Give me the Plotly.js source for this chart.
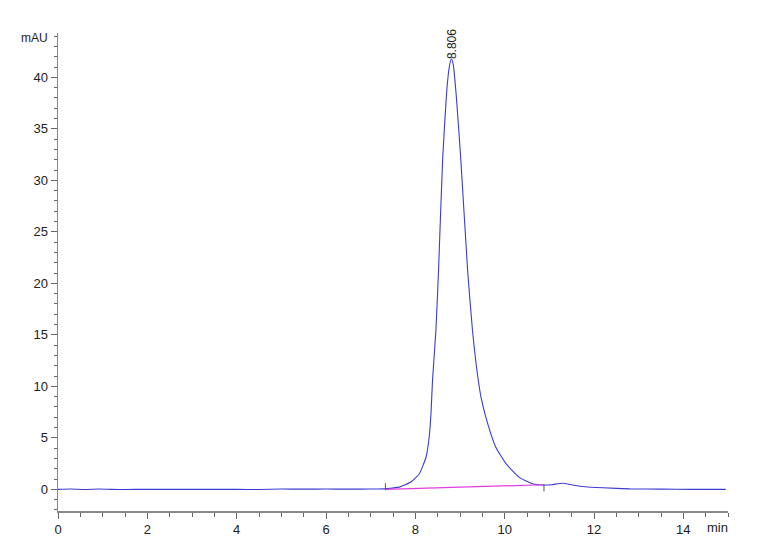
<!DOCTYPE html>
<html>
<head>
<meta charset="utf-8">
<script src="https://cdn.plot.ly/plotly-3.0.1.min.js"></script>
<style>html,body{margin:0;padding:0;background:#fff;}#chart{width:760px;height:557px;}</style>
</head>
<body>
<div id="chart"></div>
<script>
// Retention time (min) and absorbance (mAU)
const timeMin = [0.0, 0.3, 0.6, 0.9, 1.2, 1.5, 2.0, 2.5, 3.0, 3.5, 4.0, 4.5, 5.0, 5.5, 6.0, 6.5, 7.0, 7.30,
  7.34, 7.64, 7.90, 8.09, 8.24, 8.31, 8.35, 8.385, 8.46, 8.52, 8.61, 8.70, 8.76, 8.806, 8.85, 8.92, 9.02,
  9.17, 9.28, 9.36, 9.47, 9.62, 9.80, 10.03, 10.32, 10.62, 10.88, 11.05, 11.30, 11.55,
  11.80, 12.20, 12.80, 13.50, 14.20, 14.95];
const signalMAU = [0.0, 0.03, -0.02, 0.03, 0.0, -0.01, 0.0, 0.0, 0.0, 0.0, 0.0, -0.01, 0.03, 0.02, 0.03, 0.02, 0.03, 0.05,
  0.07, 0.22, 0.71, 1.52, 3.14, 5.08, 7.35, 10.6, 15.4, 21.3, 31.9, 38.5, 41.0, 41.8, 41.2, 38.0, 31.9,
  21.3, 15.4, 12.2, 8.96, 6.38, 4.11, 2.50, 1.19, 0.55, 0.42, 0.45, 0.6, 0.4,
  0.25, 0.15, 0.05, 0.02, 0.0, 0.0];
// Integration baseline (peak start / end)
const baseTime = [7.33, 10.88];
const baseMAU = [0.0, 0.45];
// Peak annotation
const peakRT = [8.806];
const peakHeight = [41.8];
const peakLabel = ['8.806'];
// Axis ticks
const xTicks = [0, 2, 4, 6, 8, 10, 12, 14];
const yTicks = [0, 5, 10, 15, 20, 25, 30, 35, 40];

const font = 'Liberation Sans Narrow, Arial Narrow, Liberation Sans, Arial, sans-serif';

const traces = [
  {x: timeMin, y: signalMAU, type: 'scatter', mode: 'lines',
   line: {color: '#3c3cd0', width: 1.1, shape: 'spline', smoothing: 0.5}, hoverinfo: 'skip'},
  {x: baseTime, y: baseMAU, type: 'scatter', mode: 'lines',
   line: {color: '#e23ee2', width: 1.2}, hoverinfo: 'skip'},
  {x: [baseTime[0]], y: [baseMAU[0] + 0.25], type: 'scatter', mode: 'markers',
   marker: {symbol: 'line-ns-open', size: 5, color: '#555', line: {width: 1, color: '#555'}}, hoverinfo: 'skip'},
  {x: [baseTime[1]], y: [baseMAU[1] - 0.3], type: 'scatter', mode: 'markers',
   marker: {symbol: 'line-ns-open', size: 5, color: '#555', line: {width: 1, color: '#555'}}, hoverinfo: 'skip'}
];

const layout = {
  width: 760, height: 557,
  margin: {l: 58, r: 32, t: 33, b: 46},
  paper_bgcolor: '#fff', plot_bgcolor: '#fff',
  showlegend: false,
  font: {family: font, size: 13, color: '#222'},
  xaxis: {
    range: [0, 15], tickvals: xTicks, ticktext: xTicks.map(String),
    showgrid: false, zeroline: false, showline: true, linecolor: '#888', linewidth: 1.5,
    ticks: 'outside', ticklen: 6, tickcolor: '#666', tickwidth: 1,
    minor: {dtick: 0.5, tick0: 0, ticks: 'outside', ticklen: 4, tickcolor: '#666', showgrid: false},
    tickfont: {family: font, size: 13, color: '#222'}
  },
  yaxis: {
    range: [-2.1, 44.3], tickvals: yTicks, ticktext: yTicks.map(String),
    showgrid: false, zeroline: false, showline: true, linecolor: '#888', linewidth: 1.5,
    ticks: 'outside', ticklen: 6, tickcolor: '#666', tickwidth: 1,
    minor: {dtick: 1, tick0: 0, ticks: 'outside', ticklen: 3, tickcolor: '#666', showgrid: false},
    tickfont: {family: font, size: 13, color: '#222'}
  },
  annotations: [
    {x: peakRT[0], y: peakHeight[0], xref: 'x', yref: 'y', text: peakLabel[0], showarrow: false,
     textangle: -90, xanchor: 'center', yanchor: 'bottom', yshift: -2,
     font: {family: 'Liberation Sans, Arial, sans-serif', size: 12, color: '#222'}},
    {x: 0, y: 1, xref: 'paper', yref: 'paper', text: 'mAU', showarrow: false,
     xanchor: 'right', yanchor: 'middle', xshift: -8, yshift: -5,
     font: {family: font, size: 12, color: '#222'}},
    {x: 1, y: 0, xref: 'paper', yref: 'paper', text: 'min', showarrow: false,
     xanchor: 'right', yanchor: 'top', yshift: -7, xshift: 2,
     font: {family: font, size: 13, color: '#222'}}
  ]
};

Plotly.newPlot('chart', traces, layout, {staticPlot: true, displayModeBar: false});
</script>
</body>
</html>
